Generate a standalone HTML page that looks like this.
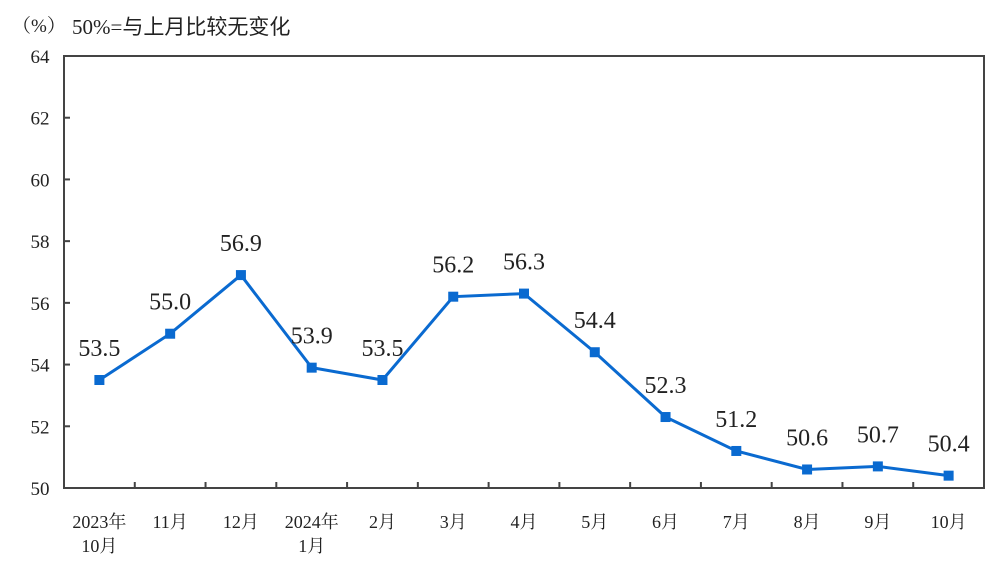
<!DOCTYPE html>
<html><head><meta charset="utf-8"><style>
body{margin:0;background:#fff;width:1000px;height:564px;overflow:hidden}
text{font-family:"Liberation Serif","Noto Serif CJK SC",serif;fill:#222}
</style></head><body>
<svg id="chart" width="1000" height="564" xmlns="http://www.w3.org/2000/svg">
<text x="12" y="32" font-size="19">（%）</text>
<text x="72" y="34" font-size="21" style='font-family:"Liberation Serif","Noto Sans CJK SC",serif'>50%=与上月比较无变化</text>
<g id="axes"></g><g id="series"></g>
</svg>
<script>
const categories=["2023年|10月","11月","12月","2024年|1月","2月","3月","4月","5月","6月","7月","8月","9月","10月"];
const values=[53.5,55.0,56.9,53.9,53.5,56.2,56.3,54.4,52.3,51.2,50.6,50.7,50.4];
const yTicks=[50,52,54,56,58,60,62,64];
const NS="http://www.w3.org/2000/svg";
const L=64,R=984,T=56,B=488,yMin=50,yMax=64;
const bw=(R-L)/categories.length;
const x=i=>L+bw*(i+0.5);
const y=v=>B-(v-yMin)/(yMax-yMin)*(B-T);
function mk(tag,attrs,parent,txt){const e=document.createElementNS(NS,tag);for(const k in attrs)e.setAttribute(k,attrs[k]);if(txt!==undefined)e.textContent=txt;parent.appendChild(e);return e;}
const ax=document.getElementById('axes'),se=document.getElementById('series');
const frame=mk('rect',{x:L,y:T,width:R-L,height:B-T,fill:'none',stroke:'#444','stroke-width':2},ax);


yTicks.forEach(v=>{
 const t=mk('line',{x1:L,x2:L+6,y1:y(v),y2:y(v),stroke:'#444','stroke-width':2},ax);
 
 
 const l=mk('text',{x:L-24,y:y(v)+7,'font-size':19,'text-anchor':'middle'},ax,String(v));
 
 
});
categories.forEach((c,i)=>{
 if(i>0){const t=mk('line',{x1:L+bw*i,x2:L+bw*i,y1:B,y2:B-6,stroke:'#444','stroke-width':2},ax);
 
 }
 const parts=c.split('|');
 parts.forEach((p,j)=>{const l=mk('text',{x:x(i),y:528+j*24,'font-size':18,'text-anchor':'middle'},ax,p);
 
 });
});
const line=mk('polyline',{points:values.map((v,i)=>x(i)+','+y(v)).join(' '),fill:'none',stroke:'#0a6ad0','stroke-width':3},se);


values.forEach((v,i)=>{
 const m=mk('rect',{x:x(i)-5,y:y(v)-5,width:10,height:10,fill:'#0a6ad0'},se);
 
 
 const l=mk('text',{x:x(i),y:y(v)-24,'font-size':24,'text-anchor':'middle'},se,v.toFixed(1));
 
 
});
</script>
</body></html>
